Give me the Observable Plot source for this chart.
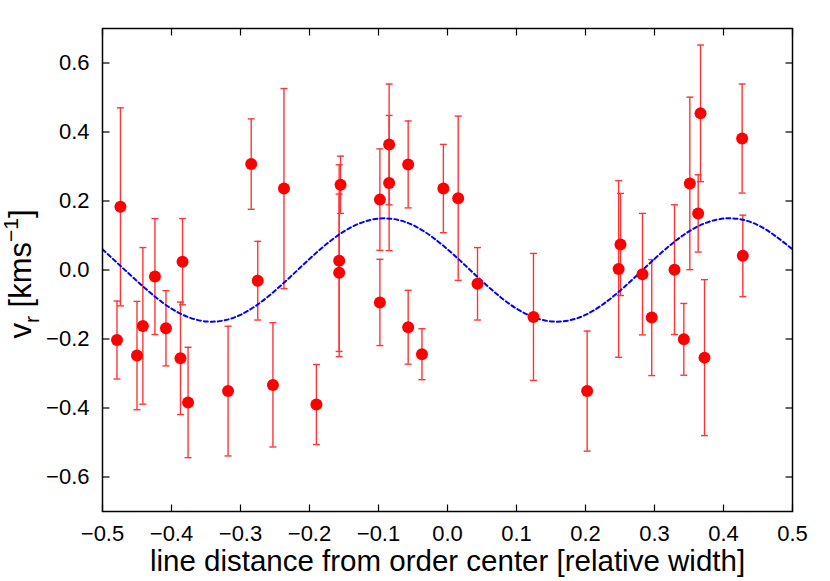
<!DOCTYPE html>
<html><head><meta charset="utf-8">
<script src="https://cdn.jsdelivr.net/npm/d3@7"></script>
<script src="https://cdn.jsdelivr.net/npm/@observablehq/plot@0.6"></script>
<style>body{margin:0;background:#fff}</style>
</head><body><div id="chart"></div>
<script>
// measured line positions (relative width)
const xPos = [-0.474, -0.479, -0.450, -0.4415, -0.424, -0.408, -0.384, -0.387, -0.376, -0.318,
  -0.2845, -0.275, -0.253, -0.237, -0.190, -0.155, -0.157, -0.157, -0.098, -0.098,
  -0.0846, -0.0846, -0.057, -0.057, -0.037, -0.006, 0.0155, 0.0435, 0.1246, 0.2024,
  0.248, 0.2507, 0.2826, 0.296, 0.329, 0.3425, 0.3512, 0.3667, 0.3633, 0.3725, 0.427, 0.428];
// radial velocities (km/s)
const vr = [0.183, -0.203, -0.248, -0.162, -0.019, -0.169, 0.024, -0.256, -0.384, -0.351,
  0.307, -0.031, -0.333, 0.236, -0.390, 0.247, 0.027, -0.008, 0.204, -0.094,
  0.364, 0.252, 0.306, -0.166, -0.244, 0.236, 0.208, -0.040, -0.136, -0.351,
  0.003, 0.074, -0.012, -0.138, 0.001, -0.201, 0.251, 0.454, 0.164, -0.254, 0.381, 0.041];
// 1-sigma errors
const err = [0.287, 0.113, 0.157, 0.227, 0.168, 0.109, 0.125, 0.163, 0.160, 0.188,
  0.131, 0.114, 0.180, 0.290, 0.116, 0.083, 0.278, 0.228, 0.147, 0.125,
  0.175, 0.196, 0.126, 0.107, 0.074, 0.128, 0.238, 0.105, 0.184, 0.174,
  0.256, 0.148, 0.176, 0.168, 0.188, 0.104, 0.250, 0.198, 0.112, 0.226, 0.158, 0.118];
// model curve
const modelX = [-0.5, -0.45, -0.4, -0.35, -0.3, -0.25, -0.2, -0.15, -0.1, -0.05, 0,
  0.05, 0.1, 0.15, 0.2, 0.25, 0.3, 0.35, 0.4, 0.45, 0.5];
const modelV = [0.060, -0.032, -0.112, -0.149, -0.130, -0.060, 0.032, 0.112, 0.149, 0.130, 0.060,
  -0.032, -0.112, -0.149, -0.130, -0.060, 0.032, 0.112, 0.149, 0.130, 0.060];
const xTicks = [-0.5, -0.4, -0.3, -0.2, -0.1, 0, 0.1, 0.2, 0.3, 0.4, 0.5];
const yTicks = [-0.6, -0.4, -0.2, 0, 0.2, 0.4, 0.6];

const points = xPos.map((x, i) => ({x, y: vr[i], e: err[i]}));
const model = modelX.map((x, i) => ({x, y: modelV[i]}));

const cap = {draw(c) { c.moveTo(-3.5, 0); c.lineTo(3.5, 0); }};
const tUp = {draw(c) { c.moveTo(0, 0); c.lineTo(0, -7); }};
const tDown = {draw(c) { c.moveTo(0, 0); c.lineTo(0, 7); }};
const tRight = {draw(c) { c.moveTo(0, 0); c.lineTo(7, 0); }};
const tLeft = {draw(c) { c.moveTo(0, 0); c.lineTo(-7, 0); }};
const fmt = d3.format(".1f");
const barColor = "#ff3535";

const chart = Plot.plot({
  width: 830,
  height: 581,
  marginLeft: 102,
  marginRight: 38,
  marginTop: 28,
  marginBottom: 70,
  style: {fontFamily: "'Liberation Sans', Arial, sans-serif", background: "#fff", color: "#000"},
  x: {domain: [-0.5, 0.5], axis: null},
  y: {domain: [-0.7, 0.7], axis: null},
  marks: [
    Plot.ruleX(points, {x: "x", y1: d => d.y - d.e, y2: d => d.y + d.e, stroke: barColor, strokeWidth: 1.4}),
    Plot.dot(points, {x: "x", y: d => d.y - d.e, symbol: cap, fill: "none", stroke: barColor, strokeWidth: 1.4}),
    Plot.dot(points, {x: "x", y: d => d.y + d.e, symbol: cap, fill: "none", stroke: barColor, strokeWidth: 1.4}),
    Plot.line(model, {x: "x", y: "y", curve: "natural", stroke: "#0000ff", strokeWidth: 2, strokeDasharray: "4,3", clip: true}),
    Plot.dot(points, {x: "x", y: "y", r: 6, fill: "#ff0000", stroke: "none"}),
    Plot.dot(xTicks, {x: d => d, frameAnchor: "bottom", symbol: tUp, fill: "none", stroke: "#000", strokeWidth: 1.2}),
    Plot.dot(xTicks, {x: d => d, frameAnchor: "top", symbol: tDown, fill: "none", stroke: "#000", strokeWidth: 1.2}),
    Plot.dot(yTicks, {y: d => d, frameAnchor: "left", symbol: tRight, fill: "none", stroke: "#000", strokeWidth: 1.2}),
    Plot.dot(yTicks, {y: d => d, frameAnchor: "right", symbol: tLeft, fill: "none", stroke: "#000", strokeWidth: 1.2}),
    Plot.axisX(xTicks, {anchor: "bottom", tickSize: 0, tickPadding: 14, tickFormat: fmt, fontSize: 22, label: null}),
    Plot.axisY(yTicks, {anchor: "left", tickSize: 0, tickPadding: 13, tickFormat: fmt, fontSize: 22, label: null}),
    Plot.text(["line distance from order center [relative width]"], {text: d => d, frameAnchor: "bottom", dy: 59, fontSize: 29.5}),
    Plot.frame({stroke: "#000", strokeWidth: 1.5})
  ]
});
document.getElementById("chart").appendChild(chart);

const svg = d3.select(chart);
const yl = svg.append("text")
  .attr("transform", "translate(31,274) rotate(-90)")
  .attr("text-anchor", "middle")
  .attr("font-size", 31)
  .attr("fill", "#000");
yl.append("tspan").text("v");
yl.append("tspan").attr("font-size", 21).attr("dy", 8).text("r");
yl.append("tspan").attr("dy", -8).text(" [kms");
yl.append("tspan").attr("font-size", 21).attr("dy", -13).text("−1");
yl.append("tspan").attr("dy", 13).text("]");
</script>
</body></html>
